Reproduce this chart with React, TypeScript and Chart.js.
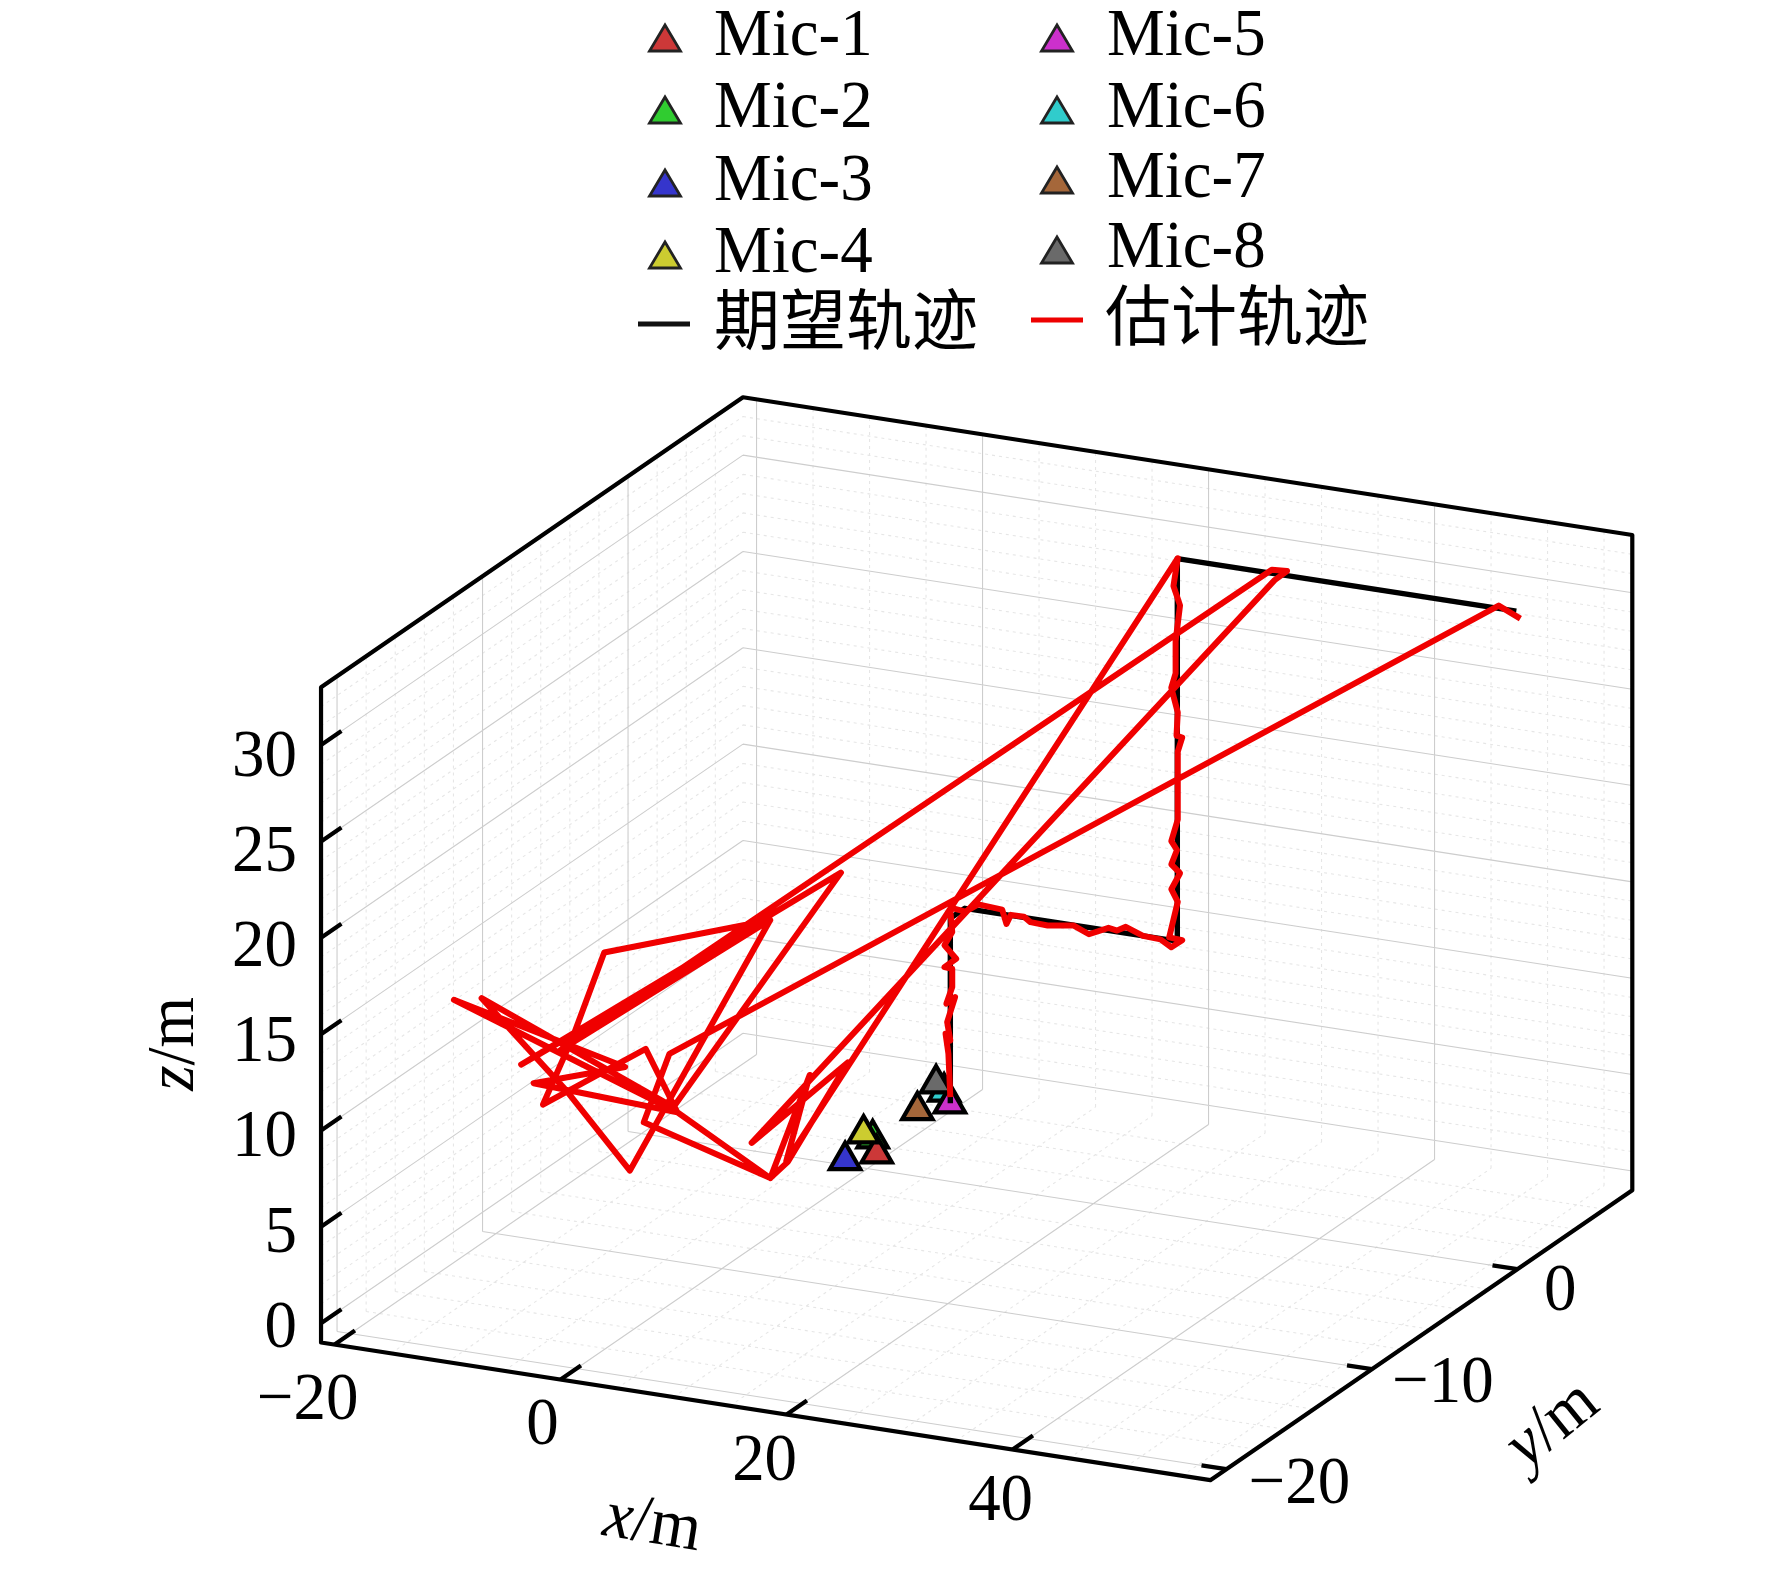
import React, { useEffect, useRef } from "react";
import { Chart, registerables } from "chart.js";

Chart.register(...registerables);

// ---- axis ranges and ticks (metres) ----
const xLimits = [-21.2, 57.5];
const yLimits = [-21.1, 7.9];
const zLimits = [-1, 33];
const xTicks = [-20, 0, 20, 40];
const yTicks = [-20, -10, 0];
const zTicks = [0, 5, 10, 15, 20, 25, 30];
const xMinorTicks = [-15, -10, -5, 5, 10, 15, 25, 30, 35, 45, 50, 55];
const yMinorTicks = [-18, -16, -14, -12, -8, -6, -4, -2, 2, 4, 6];
const zMinorTicks = [1, 2, 3, 4, 6, 7, 8, 9, 11, 12, 13, 14, 16, 17, 18, 19, 21, 22, 23, 24, 26, 27, 28, 29, 31, 32, 33];

// ---- microphones ----
const micNames = ["Mic-1", "Mic-2", "Mic-3", "Mic-4", "Mic-5", "Mic-6", "Mic-7", "Mic-8"];
const micX = [1.1, -0.76, -0.47, -1.94, 1.14, -0.52, -0.5, -1.96];
const micY = [-0.23, 0.94, -1.18, 1.23, 4.77, 5.66, 3.81, 6.23];
const micZ = [0, 0, 0, 0, 0, 0, 0, 0];
const micColors = ["#cc3838", "#30cc30", "#3535cc", "#cccc30", "#cc30cc", "#30cccc", "#a5673a", "#6a6a6a"];

// ---- expected trajectory ----
const refName = "期望轨迹";
const refX = [1.14, 1.14, 1.14, 19.94, 19.94, 49.94];
const refY = [4.8, 4.8, 5.8, 5.8, 5.8, 5.8];
const refZ = [0, 9.6, 9.6, 9.6, 29.45, 29.45];

// ---- estimated trajectory ----
const estName = "估计轨迹";
const estX = [
  1.14, 0.97, 0.72, 1.14, 0.86, 1.56, 0.79, 1.31, 1.31, 0.62, 1.66, 0.62, 1.31, 1.14,
  0.03, 1.18, 2.33, 4.44, 4.82, 5.21, 6.36, 6.94, 8.47, 10.78, 12.12, 13.85, 14.61, 15.38, 16.91, 18.45, 19.41, 20.37,
  19.22, 19.98, 19.41, 20.18, 19.41, 19.91, 19.41, 19.98, 19.98, 19.98, 20.37, 19.87, 19.98, 19.41, 19.79, 19.79, 20.18, 19.6, 19.98,
  12.75, 14.84, 11.35, 3.12, -16.65, -1.5, -9.6, 3.12, 0.32, -8.77, -6.15, -3.35, 11.34, -1.08, -6.68, -14.2, 2.77, 17.6, -10.7, 11.34, -7.2,
  28.3, 29.65, 28.55,
  9.7, 18.2, 12.92, 11.35, 0.15, 2.42,
  48.38, 50.3,
];
const estY = [
  4.8, 4.8, 4.8, 4.8, 4.8, 4.8, 4.8, 4.8, 4.8, 4.8, 4.8, 4.8, 4.8, 4.8,
  5.8, 5.8, 5.8, 5.8, 5.8, 5.8, 5.8, 5.8, 5.8, 5.8, 5.8, 5.8, 5.8, 5.8, 5.8, 5.8, 5.8, 5.8,
  5.8, 5.8, 5.8, 5.8, 5.8, 5.8, 5.8, 5.8, 5.8, 5.8, 5.8, 5.8, 5.8, 5.8, 5.8, 5.8, 5.8, 5.8, 5.8,
  -15.5, -15.5, -15.5, -15.5, -15.5, -15.5, -15.5, -15.5, -15.5, -15.5, -15.5, -15.5, -15.5, -15.5, -15.5, -15.5, -15.5, -15.5, -15.5, -15.5, -15.5,
  5.8, 5.8, 5.8,
  -15.5, -15.5, -15.5, -15.5, -15.5, -15.5,
  5.8, 5.8,
];
const estZ = [
  0.32, 2.56, 3.57, 3.26, 4.19, 5.55, 5.14, 6.05, 7.0, 7.02, 7.55, 8.15, 8.9, 10.0,
  9.51, 9.43, 9.91, 9.83, 9.12, 9.63, 9.64, 9.41, 9.37, 9.58, 9.25, 9.74, 9.67, 9.93, 9.6, 9.56, 9.24, 9.69,
  9.73, 11.65, 12.25, 13.15, 13.54, 14.33, 14.75, 15.92, 18.14, 19.44, 20.21, 20.26, 21.47, 22.71, 23.49, 25.16, 27.05, 28.0, 29.48,
  8.56, 13.25, 7.58, 10.25, 14.29, 12.18, 10.6, 10.25, 13.28, 9.57, 13.28, 17.95, 20.97, 6.84, 10.47, 14.6, 10.48, 24.0, 11.47, 20.97, 12.55,
  29.64, 29.69, 29.12,
  9.26, 14.2, 8.58, 7.58, 9.46, 13.22,
  29.6, 29.1,
];

// ---- view: oblique projection of the 3-D axes onto the canvas ----
const view = { u0: 867.6, ux: 11.3, uy: 14.55, v0: 1149.3, vx: 1.75, vy: -10, vz: -19.27 };
const project = (x: number, y: number, z: number) => ({
  x: view.u0 + view.ux * x + view.uy * y,
  y: view.v0 + view.vx * x + view.vy * y + view.vz * z,
});

const GAP = { x: null as any, y: null as any };
const segments = (list: number[][][]) => {
  const out: any[] = [];
  list.forEach((s) => {
    s.forEach((p) => out.push(project(p[0], p[1], p[2])));
    out.push(GAP);
  });
  return out;
};
const [x0, x1] = xLimits;
const [y0, y1] = yLimits;
const [z0, z1] = zLimits;

const gridFor = (xs: number[], ys: number[], zs: number[]) => {
  const s: number[][][] = [];
  xs.forEach((x) => {
    s.push([[x, y0, z0], [x, y1, z0]]);
    s.push([[x, y1, z0], [x, y1, z1]]);
  });
  ys.forEach((y) => {
    s.push([[x0, y, z0], [x1, y, z0]]);
    s.push([[x0, y, z0], [x0, y, z1]]);
  });
  zs.forEach((z) => {
    s.push([[x0, y0, z], [x0, y1, z]]);
    s.push([[x0, y1, z], [x1, y1, z]]);
  });
  return segments(s);
};

const boxLines = segments([
  [[x0, y0, z1], [x0, y0, z0], [x1, y0, z0], [x1, y1, z0], [x1, y1, z1], [x0, y1, z1], [x0, y0, z1]],
]);
const tickLines = segments([
  ...xTicks.map((x) => [[x, y0, z0], [x, y0 + 1.4, z0]]),
  ...yTicks.map((y) => [[x1, y, z0], [x1 - 2.2, y, z0]]),
  ...zTicks.map((z) => [[x0, y0, z], [x0, y0 + 1.4, z]]),
]);

const SERIF = '"Liberation Serif"';
const CJK = '"Noto Sans CJK SC"';
const NUM_SIZE = 68;
const X_SQUEEZE = 0.955;

type Run = { t: string; italic?: boolean };

function drawRuns(ctx: CanvasRenderingContext2D, runs: Run[], cx: number, cy: number, angle: number, size: number) {
  ctx.save();
  ctx.translate(cx, cy);
  ctx.rotate(angle);
  ctx.scale(X_SQUEEZE, 1);
  ctx.fillStyle = "#000";
  ctx.textBaseline = "alphabetic";
  ctx.textAlign = "left";
  const widths = runs.map((r) => {
    ctx.font = `${r.italic ? "italic " : ""}${size}px ${SERIF}`;
    return ctx.measureText(r.t).width;
  });
  let px = -widths.reduce((a, b) => a + b, 0) / 2;
  runs.forEach((r, i) => {
    ctx.font = `${r.italic ? "italic " : ""}${size}px ${SERIF}`;
    ctx.fillText(r.t, px, size * 0.3);
    px += widths[i];
  });
  ctx.restore();
}

const fmt = (v: number) => (v < 0 ? "\u2212" + Math.abs(v) : String(v));

// label offsets from the tick each one belongs to
const xLabelOffsets = [[-27, 54], [-18, 44], [-22, 45], [-12, 50]];
const yLabelOffsets = [[73, 13], [71, 12], [43, 20]];

const axisTextPlugin = {
  id: "axisText",
  afterDatasetsDraw(chart: any) {
    const ctx: CanvasRenderingContext2D = chart.ctx;
    const sx = chart.scales.x;
    const sy = chart.scales.y;
    const at = (p: { x: number; y: number }) => ({ x: sx.getPixelForValue(p.x), y: sy.getPixelForValue(p.y) });

    // z tick labels, right aligned against the left edge
    zTicks.forEach((z) => {
      const p = at(project(x0, y0, z));
      ctx.save();
      ctx.font = `${NUM_SIZE}px ${SERIF}`;
      const w = ctx.measureText(fmt(z)).width * X_SQUEEZE;
      ctx.restore();
      drawRuns(ctx, [{ t: fmt(z) }], p.x - 24 - w / 2, p.y + 3 + z * 0.25, 0, NUM_SIZE);
    });
    // x tick labels
    xTicks.forEach((x, i) => {
      const p = at(project(x, y0, z0));
      drawRuns(ctx, [{ t: fmt(x) }], p.x + xLabelOffsets[i][0], p.y + xLabelOffsets[i][1], 0, NUM_SIZE);
    });
    // y tick labels
    yTicks.forEach((y, i) => {
      const p = at(project(x1, y, z0));
      drawRuns(ctx, [{ t: fmt(y) }], p.x + yLabelOffsets[i][0], p.y + yLabelOffsets[i][1], 0, NUM_SIZE);
    });
    // axis titles
    const xMid = at(project((x0 + x1) / 2, y0, z0));
    drawRuns(ctx, [{ t: "x", italic: true }, { t: "/m" }], xMid.x - 113, xMid.y + 111, 0.16, NUM_SIZE);
    const zMid = at(project(x0, y0, (z0 + z1) / 2));
    drawRuns(ctx, [{ t: "z", italic: true }, { t: "/m" }], zMid.x - 148, zMid.y + 29, -Math.PI / 2, NUM_SIZE);
    const yMid = at(project(x1, (y0 + y1) / 2, z0));
    drawRuns(ctx, [{ t: "y", italic: true }, { t: "/m" }], yMid.x + 130, yMid.y + 88, -0.68, NUM_SIZE);

    // legend
    const tri = (cx: number, base: number, color: string) => {
      const w = 15.5;
      const h = 26;
      ctx.save();
      ctx.beginPath();
      ctx.moveTo(cx, base - 2 - h);
      ctx.lineTo(cx + w, base - 2);
      ctx.lineTo(cx - w, base - 2);
      ctx.closePath();
      ctx.fillStyle = color;
      ctx.fill();
      ctx.strokeStyle = "#222";
      ctx.lineWidth = 2.8;
      ctx.stroke();
      ctx.restore();
    };
    const label = (text: string, left: number, baseline: number) => {
      ctx.save();
      ctx.translate(left, baseline);
      ctx.scale(X_SQUEEZE, 1);
      ctx.font = `${NUM_SIZE}px ${SERIF}`;
      ctx.fillStyle = "#000";
      ctx.textAlign = "left";
      ctx.textBaseline = "alphabetic";
      ctx.fillText(text, 0, 0);
      ctx.restore();
    };
    const rowBase = [[53, 125, 198, 270], [53, 125, 195, 265]];
    const colMark = [665, 1057];
    const colText = [714, 1107];
    micNames.forEach((name, i) => {
      const c = i < 4 ? 0 : 1;
      const r = i % 4;
      tri(colMark[c], rowBase[c][r], micColors[i]);
      label(name, colText[c], rowBase[c][r] + 2);
    });
    const cjk = (text: string, left: number, mid: number) => {
      ctx.save();
      ctx.font = `66px ${CJK}, ${SERIF}`;
      ctx.fillStyle = "#000";
      ctx.textAlign = "left";
      ctx.textBaseline = "middle";
      ctx.fillText(text, left, mid);
      ctx.restore();
    };
    const dash = (a: number, b: number, yy: number, color: string) => {
      ctx.save();
      ctx.strokeStyle = color;
      ctx.lineWidth = 5;
      ctx.beginPath();
      ctx.moveTo(a, yy);
      ctx.lineTo(b, yy);
      ctx.stroke();
      ctx.restore();
    };
    dash(638, 690, 324, "#111");
    cjk(refName, 714, 319);
    dash(1031, 1083, 320, "#ee0000");
    cjk(estName, 1105, 315);
  },
};

export default function App() {
  const ref = useRef<HTMLCanvasElement | null>(null);
  useEffect(() => {
    if (!ref.current) return;
    const line = (label: string, data: any[], color: string, width: number, order: number, dash: number[] = []) => ({
      label,
      data,
      showLine: true,
      borderColor: color,
      backgroundColor: color,
      borderWidth: width,
      borderDash: dash,
      pointRadius: 0,
      pointHoverRadius: 0,
      spanGaps: false,
      tension: 0,
      order,
      borderJoinStyle: "round" as const,
      borderCapStyle: "butt" as const,
    });
    const micOrder = [15, 17, 13, 14, 12, 16, 10, 11];
    const chart = new Chart(ref.current, {
      type: "scatter",
      data: {
        datasets: [
          line(estName, estX.map((x, i) => project(x, estY[i], estZ[i])), "#f00000", 6, 1),
          line(refName, refX.map((x, i) => project(x, refY[i], refZ[i])), "#000000", 5.4, 2),
          ...micNames.map((name, i) => ({
            label: name,
            data: [project(micX[i], micY[i], micZ[i])],
            pointStyle: "triangle" as const,
            pointRadius: 17.5,
            pointHoverRadius: 17.5,
            pointBorderWidth: 4.2,
            pointBackgroundColor: micColors[i],
            pointBorderColor: "#000000",
            showLine: false,
            order: micOrder[i],
          })),
          line("box", boxLines, "#000000", 4.2, 30),
          line("ticks", tickLines, "#000000", 4.2, 31),
          line("major grid", gridFor(xTicks, yTicks, zTicks), "#cdcdcd", 1.1, 40),
          line("minor grid", gridFor(xMinorTicks, yMinorTicks, zMinorTicks), "#e6e6e6", 1.1, 41, [3, 4]),
        ],
      },
      options: {
        animation: false,
        responsive: false,
        devicePixelRatio: 1,
        layout: { padding: 0, autoPadding: false },
        plugins: { legend: { display: false }, tooltip: { enabled: false } },
        scales: {
          x: { type: "linear", min: 0, max: 1772, display: false },
          y: { type: "linear", min: 0, max: 1569, reverse: true, display: false },
        },
      },
      plugins: [axisTextPlugin],
    } as any);
    return () => chart.destroy();
  }, []);
  return (
    <div style={{ position: "absolute", left: 0, top: 0, width: 1772, height: 1569, background: "#fff" }}>
      <canvas ref={ref} width={1772} height={1569} style={{ display: "block" }} />
    </div>
  );
}
